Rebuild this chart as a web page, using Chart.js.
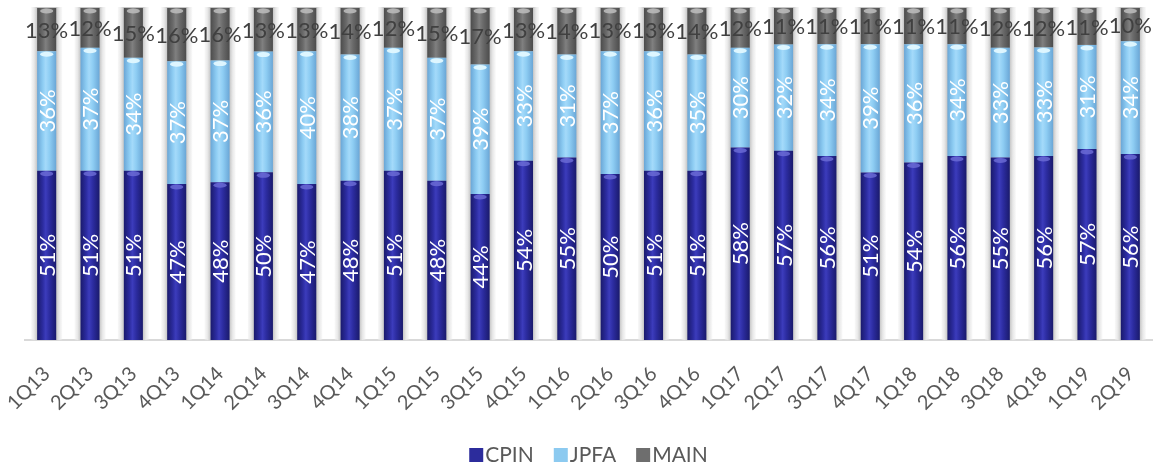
<!DOCTYPE html>
<html><head><meta charset="utf-8">
<script src="https://cdn.jsdelivr.net/npm/chart.js@4.4.1/dist/chart.umd.min.js"></script>
<style>html,body{margin:0;padding:0;background:#fff;}#wrap{width:1153px;height:467px;position:relative;}</style>
</head><body><div id="wrap"><canvas id="c"></canvas></div>
<script>
const categories = ['1Q13','2Q13','3Q13','4Q13','1Q14','2Q14','3Q14','4Q14','1Q15','2Q15','3Q15','4Q15','1Q16','2Q16','3Q16','4Q16','1Q17','2Q17','3Q17','4Q17','1Q18','2Q18','3Q18','4Q18','1Q19','2Q19'];
const cpin = [51,51,51,47,48,50,47,48,51,48,44,54,55,50,51,51,58,57,56,51,54,56,55,56,57,56];
const jpfa = [36,37,34,37,37,36,40,38,37,37,39,33,31,37,36,35,30,32,34,39,36,34,33,33,31,34];
const main = [13,12,15,16,16,13,13,14,12,15,17,13,14,13,13,14,12,11,11,11,11,11,12,12,11,10];
const seriesNames = ['CPIN','JPFA','MAIN'];
const seriesColors = ['#2c2c9c', '#8ccaf0', '#6e6e6e'];

const raw = [cpin, jpfa, main];
const share = raw.map(arr => arr.map((v,i) => v / (cpin[i]+jpfa[i]+main[i]) * 100));
const BAR_FRAC = 0.44;
const FONT = 'Lato, "Open Sans", sans-serif';

function cyl(solid, edge, mid, hi){
  return function(ctx){
    const ch = ctx.chart, xs = ch.scales && ch.scales.x;
    if (ctx.type !== 'data' || !xs || !xs.width) return solid;
    const cx = xs.getPixelForValue(ctx.dataIndex);
    const w = xs.width / categories.length * BAR_FRAC;
    const g = ch.ctx.createLinearGradient(cx - w/2, 0, cx + w/2, 0);
    g.addColorStop(0, edge);
    g.addColorStop(0.3, mid);
    g.addColorStop(0.45, hi);
    g.addColorStop(0.65, mid);
    g.addColorStop(1, edge);
    return g;
  };
}

const shadowPlugin = {
  id: 'shadow',
  beforeDatasetsDraw(chart){
    const xs = chart.scales.x, a = chart.chartArea, c = chart.ctx;
    const w = xs.width / categories.length * BAR_FRAC;
    c.save();
    categories.forEach((_, i) => {
      const cx = xs.getPixelForValue(i);
      const L = cx - w/2 - 6, R = cx + w/2 + 6;
      const g = c.createLinearGradient(L, 0, R, 0);
      const e = 6/(w+12);
      g.addColorStop(0, 'rgba(235,235,235,0.3)');
      g.addColorStop(e*0.5, '#e8e8e8');
      g.addColorStop(e, '#c6c6c6');
      g.addColorStop(1-e, '#c6c6c6');
      g.addColorStop(1-e*0.5, '#e8e8e8');
      g.addColorStop(1, 'rgba(235,235,235,0.3)');
      c.fillStyle = g;
      c.fillRect(L, a.top - 1, R - L, a.bottom - a.top + 1);
    });
    c.restore();
  }
};

const capColors = ['rgba(110,110,215,0.8)', 'rgba(225,248,255,0.95)', 'rgba(190,190,190,0.85)'];
const labelPlugin = {
  id: 'vlabels',
  afterDatasetsDraw(chart){
    const c = chart.ctx;
    c.save();
    chart.data.datasets.forEach((ds, di) => {
      const meta = chart.getDatasetMeta(di);
      meta.data.forEach((el) => {
        const p = el.getProps(['x','y','base','width'], true);
        const top = Math.min(p.y, p.base);
        c.fillStyle = capColors[di];
        c.beginPath();
        c.ellipse(p.x, top + 3, p.width/2 - 3, 2.5, 0, 0, Math.PI*2);
        c.fill();
      });
    });
    chart.data.datasets.forEach((ds, di) => {
      const meta = chart.getDatasetMeta(di);
      meta.data.forEach((el, i) => {
        const p = el.getProps(['x','y','base'], true);
        const cy = (p.y + p.base) / 2;
        const txt = raw[di][i] + '%';
        c.font = '22px ' + FONT;
        c.textAlign = 'center';
        c.textBaseline = 'middle';
        if (di < 2) {
          c.save();
          c.translate(p.x, cy);
          c.rotate(-Math.PI/2);
          c.fillStyle = '#ffffff';
          c.fillText(txt, 0, 1);
          c.restore();
        } else {
          c.fillStyle = '#404040';
          c.fillText(txt, p.x, cy + 1);
        }
      });
    });
    c.restore();
  }
};

const legendPlugin = {
  id: 'customLegend',
  afterDraw(chart){
    const c = chart.ctx, a = chart.chartArea;
    const box = 14, gap = 2, itemGap = 20, baseline = 462;
    c.save();
    c.font = '21px ' + FONT;
    c.textBaseline = 'alphabetic';
    c.textAlign = 'left';
    const widths = seriesNames.map(n => c.measureText(n).width);
    const total = widths.reduce((s, w) => s + box + gap + w, 0) + itemGap * (seriesNames.length - 1);
    let x = (a.left + a.right) / 2 - total / 2;
    seriesNames.forEach((n, i) => {
      c.fillStyle = seriesColors[i];
      c.fillRect(x, baseline - box, box, box);
      c.fillStyle = '#595959';
      c.fillText(n, x + box + gap, baseline);
      x += box + gap + widths[i] + itemGap;
    });
    c.restore();
  }
};

new Chart(document.getElementById('c'), {
  type: 'bar',
  data: {
    labels: categories,
    datasets: [
      { label: seriesNames[0], data: share[0], backgroundColor: cyl(seriesColors[0], '#1a1a6c', '#2c2ca0', '#3c3cbc') },
      { label: seriesNames[1], data: share[1], backgroundColor: cyl(seriesColors[1], '#6aa6d6', '#8ecdf3', '#a4dafa') },
      { label: seriesNames[2], data: share[2], backgroundColor: cyl(seriesColors[2], '#4c4c4c', '#6a6a6a', '#808080') }
    ]
  },
  options: {
    responsive: true,
    maintainAspectRatio: false,
    animation: false,
    devicePixelRatio: 1,
    categoryPercentage: 1,
    barPercentage: BAR_FRAC,
    layout: { padding: { left: 25, right: 1, top: 8, bottom: 38 } },
    scales: {
      x: {
        stacked: true,
        offset: true,
        grid: { display: false },
        border: { display: true, color: '#d9d9d9', width: 2 },
        ticks: { color: '#595959', font: { family: FONT, size: 20 }, minRotation: 45, maxRotation: 45, autoSkip: false, padding: 14 },
        afterFit(scale){ scale.paddingLeft = 0; scale.paddingRight = 0; }
      },
      y: { stacked: true, min: 0, max: 100, display: false }
    },
    plugins: {
      legend: { display: false },
      tooltip: { enabled: false }
    }
  },
  plugins: [shadowPlugin, labelPlugin, legendPlugin]
});
</script>
</body></html>
